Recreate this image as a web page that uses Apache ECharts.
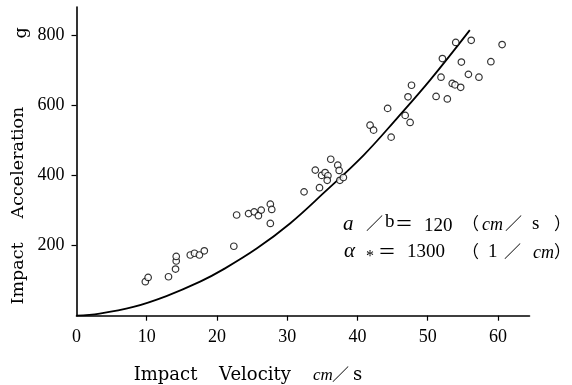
<!DOCTYPE html>
<html><head><meta charset="utf-8">
<script src="https://cdn.jsdelivr.net/npm/echarts@6/dist/echarts.min.js"></script>
<style>html,body{margin:0;padding:0;background:#fff}#c{width:572px;height:385px}</style>
</head><body><div id="c"></div>
<script>
// ---- data ----
const xTickLabels = [0, 10, 20, 30, 40, 50, 60];
const xTickMarks = [10, 20, 30, 40, 50, 60];
const yTickLabels = [200, 400, 600, 800];

const velocity = [9.8, 10.2, 13.1, 14.1, 14.2, 14.2, 16.2, 16.8, 17.5, 18.2,
  22.4, 22.8, 24.5, 25.3, 25.9, 26.3, 27.6, 27.8, 27.6, 32.4,
  34.0, 34.6, 34.9, 35.4, 35.8, 35.7, 36.2, 37.2, 37.4, 37.5,
  38.0, 41.8, 42.3, 44.3, 44.8, 46.8, 47.2, 47.5, 47.7, 51.2,
  51.9, 52.1, 52.8, 53.5, 53.9, 54.0, 54.7, 54.8, 55.8, 56.2,
  57.3, 59.0, 60.6];
const acceleration = [97, 109, 111, 133, 156, 169, 173, 178, 173, 185,
  198, 287, 291, 296, 285, 301, 318, 303, 263, 353,
  415, 365, 400, 408, 399, 386, 446, 429, 414, 386,
  394, 543, 529, 591, 509, 571, 624, 551, 657, 625,
  680, 733, 618, 662, 658, 779, 651, 723, 688, 785,
  680, 724, 773];

const curveVelocity = [0, 3.3, 8.1, 12.8, 17.6, 20.9, 25.7, 30.4, 35.2, 40.9, 45.6, 50.4, 56.0];
const curveAcceleration = [0, 6, 25, 56, 97, 132, 192, 263, 350, 458, 562, 673, 814];

// ---- chart ----
const chart = echarts.init(document.getElementById('c'), null, {renderer: 'canvas'});
const serif = '"Liberation Serif", "DejaVu Serif", serif';
const titleFont = '17.5px "DejaVu Serif", serif';

function txt(text, x, y, font, opts) {
  return Object.assign({
    type: 'text', x: x, y: y,
    style: {text: text, font: font, fill: '#000', align: 'left', verticalAlign: 'middle'}
  }, opts || {});
}
function ctxt(text, x, y, font, rot) {
  return {
    type: 'text', x: x, y: y, rotation: rot || 0,
    style: {text: text, font: font, fill: '#000', align: 'center', verticalAlign: 'middle'}
  };
}
const annFont = '19px "Liberation Serif", serif';
const italicFont = 'italic 21px "Liberation Serif", serif';
const cjkFont = '17px "Noto Sans CJK JP", sans-serif';
const xTitleFont = '18px "DejaVu Serif", serif';

chart.setOption({
  animation: false,
  backgroundColor: '#fff',
  grid: {left: 76.5, right: 42.5, top: 7, bottom: 69.3},
  xAxis: {
    type: 'value', min: 0, max: 64.5, interval: 10,
    axisLine: {show: true, lineStyle: {color: '#000', width: 1.6}},
    axisTick: {show: true, length: 5, lineStyle: {color: '#000', width: 1.2}, customValues: xTickMarks},
    axisLabel: {color: '#000', fontFamily: serif, fontSize: 18, margin: 13, customValues: xTickLabels},
    splitLine: {show: false}
  },
  yAxis: {
    type: 'value', min: 0, max: 880, interval: 200,
    axisLine: {show: true, lineStyle: {color: '#000', width: 1.6}},
    axisTick: {show: true, length: 5, lineStyle: {color: '#000', width: 1.2}, customValues: yTickLabels},
    axisLabel: {color: '#000', fontFamily: serif, fontSize: 18, margin: 12, customValues: yTickLabels},
    splitLine: {show: false}
  },
  series: [
    {
      type: 'line', smooth: 0.4, symbol: 'none',
      data: curveVelocity.map((v, i) => [v, curveAcceleration[i]]),
      lineStyle: {color: '#000', width: 1.8}, z: 2
    },
    {
      type: 'scatter', symbol: 'circle', symbolSize: 6.5,
      data: velocity.map((v, i) => [v, acceleration[i]]),
      itemStyle: {color: '#fff', borderColor: '#000', borderWidth: 1.2}, z: 3
    }
  ],
  graphic: [
    // y axis title (rotated)
    ctxt('Impact', 18, 273.5, titleFont, Math.PI / 2),
    ctxt('Acceleration', 18, 162.5, titleFont, Math.PI / 2),
    ctxt('g', 21, 33, titleFont, Math.PI / 2),
    // x axis title
    ctxt('Impact', 165.5, 375, xTitleFont),
    ctxt('Velocity', 255, 375, xTitleFont),
    txt('cm', 313, 376, 'italic 17px "Liberation Serif", serif'),
    txt('／', 332, 375, cjkFont),
    txt('s', 353, 375, xTitleFont),
    // annotation line 1
    txt('a', 343, 224, italicFont),
    txt('／', 366, 224, cjkFont),
    txt('b', 385, 222, annFont),
    txt('＝', 395, 223, '18px "Noto Sans CJK JP", sans-serif'),
    txt('120', 424, 226, annFont),
    txt('（', 462, 224, cjkFont),
    txt('cm', 482, 225, 'italic 18px "Liberation Serif", serif'),
    txt('／', 505, 224, cjkFont),
    txt('s', 532, 224, annFont),
    txt('）', 554, 224, cjkFont),
    // annotation line 2
    txt('α', 344, 251, italicFont),
    txt('*', 366, 257, '16px "Liberation Serif", serif'),
    txt('＝', 378, 251, '18px "Noto Sans CJK JP", sans-serif'),
    txt('1300', 407, 252, annFont),
    txt('（', 462, 252, cjkFont),
    txt('1', 488, 252, annFont),
    txt('／', 504, 252, cjkFont),
    txt('cm', 533, 253, 'italic 18px "Liberation Serif", serif'),
    txt('）', 554, 252, cjkFont)
  ]
});
</script>
</body></html>
